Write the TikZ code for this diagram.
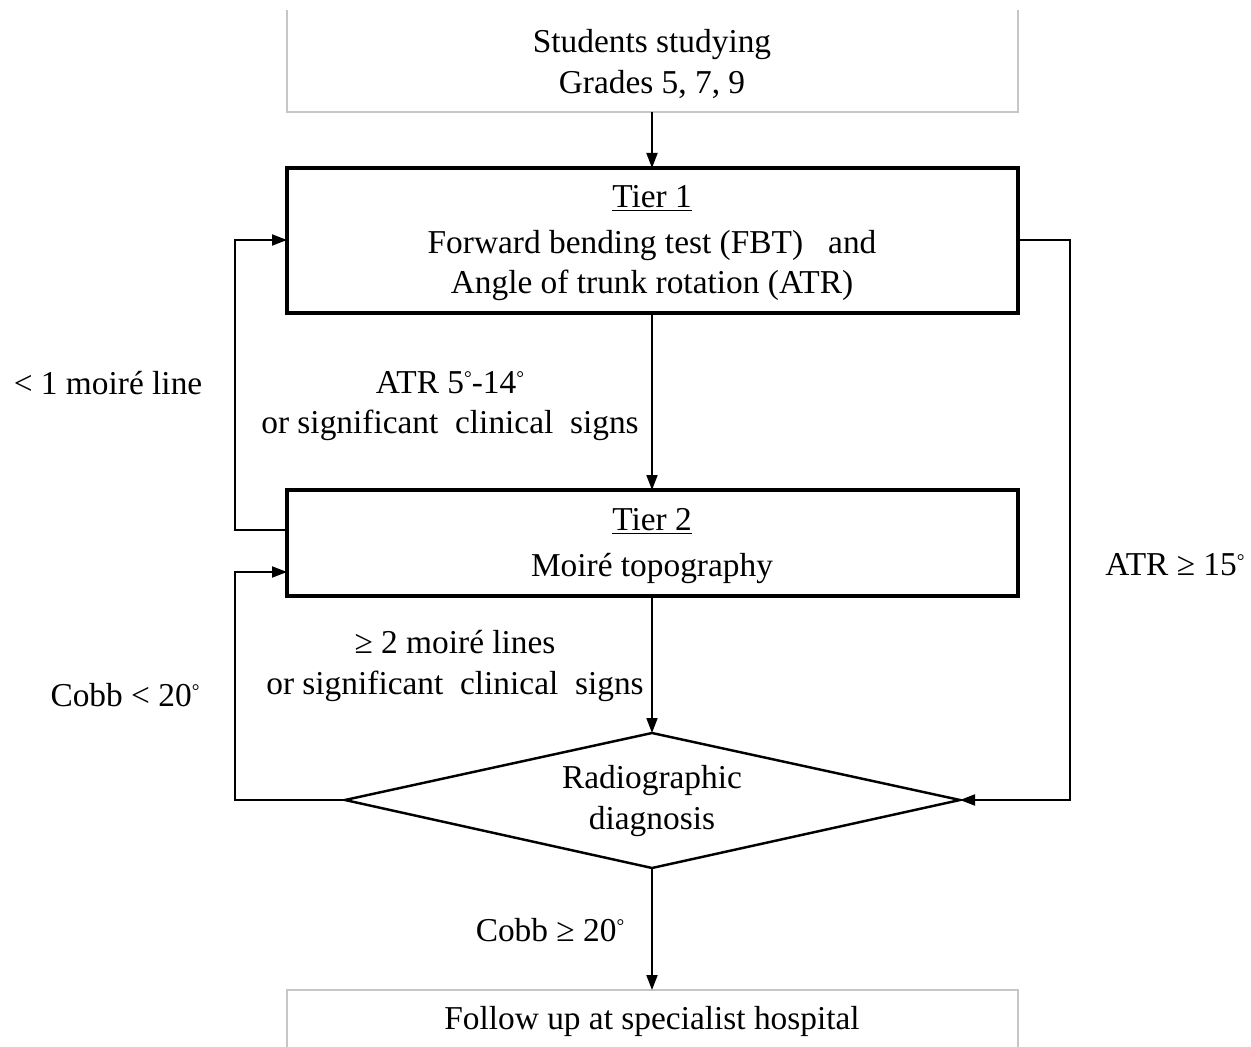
\documentclass[tikz,border=0pt]{standalone}
\usepackage{fontspec}
\setmainfont{Liberation Serif}
\usetikzlibrary{arrows.meta,shapes.geometric}
\newcommand{\dg}{\raisebox{0.55ex}{\fontsize{11}{11}\selectfont °}}
\begin{document}
\begin{tikzpicture}[x=0.02cm,y=-0.02cm,
  font=\fontsize{19}{23}\selectfont,
  greybox/.style={align=center,inner sep=0pt},
  conn/.style={line width=1.1pt,-{Triangle[length=0.3cm,width=0.22cm]}},
  boxline/.style={line width=2.2pt},
  lbl/.style={align=center,inner sep=0pt}]
\useasboundingbox (0,0) rectangle (1251,1047);
\fill[white] (0,0) rectangle (1251,1047);
% top grey box
\draw[gray!45,line width=0.6pt] (287,10) -- (287,112) -- (1018,112) -- (1018,10);
\node[greybox] (start) at (652,64) {Students studying\\Grades 5, 7, 9};
\coordinate (startb) at (652,112);
% tier 1
\draw[boxline] (287,168) rectangle (1018,313);
\node[lbl] (t1) at (652,243) {\underline{Tier 1}\\[3pt]Forward bending test (FBT)\ \ \ and\\Angle of trunk rotation (ATR)};
\coordinate (t1top) at (652,168);
\coordinate (t1bot) at (652,313);
\coordinate (t1left) at (287,240);
\coordinate (t1right) at (1018,240);
% tier 2
\draw[boxline] (287,490) rectangle (1018,596);
\node[lbl] (t2) at (652,546) {\underline{Tier 2}\\[3pt]Moiré topography};
\coordinate (t2top) at (652,490);
\coordinate (t2bot) at (652,596);
\coordinate (t2leftA) at (287,530);
\coordinate (t2leftB) at (287,572);
% diamond
\draw[line width=1.4pt] (652,733) -- (960,800) -- (652,868) -- (345,800) -- cycle;
\node[lbl] (dia) at (652,801) {Radiographic\\diagnosis};
\coordinate (dtop) at (652,733);
\coordinate (dleft) at (345,800);
\coordinate (dright) at (960,800);
\coordinate (dbot) at (652,868);
% bottom grey box
\draw[gray!45,line width=0.6pt] (287,1047) -- (287,990) -- (1018,990) -- (1018,1047);
\node[greybox] (end) at (652,1021) {Follow up at specialist hospital};
\coordinate (endtop) at (652,990);
% connectors
\draw[conn] (startb) -- (t1top);
\draw[conn] (t1bot) -- (t2top);
\draw[conn] (t2bot) -- (dtop);
\draw[conn] (dbot) -- (endtop);
\draw[conn] (t2leftA) -- (235,530) -- (235,240) -- (t1left);
\draw[conn] (dleft) -- (235,800) -- (235,572) -- (t2leftB);
\draw[conn] (t1right) -- (1070,240) -- (1070,800) -- (dright);
% labels
\node[lbl] (l1) at (450,406) {ATR 5\dg-14\dg\\or significant\ \ clinical\ \ signs};
\node[lbl] (l2) at (108,383) {< 1 moiré line};
\node[lbl] (l3) at (455,666) {≥ 2 moiré lines\\or significant\ \ clinical\ \ signs};
\node[lbl] (l4) at (125,695) {Cobb < 20\dg};
\node[lbl] (l5) at (1175,565) {ATR ≥ 15\dg};
\node[lbl] (l6) at (550,930) {Cobb ≥ 20\dg};
\end{tikzpicture}
\end{document}
